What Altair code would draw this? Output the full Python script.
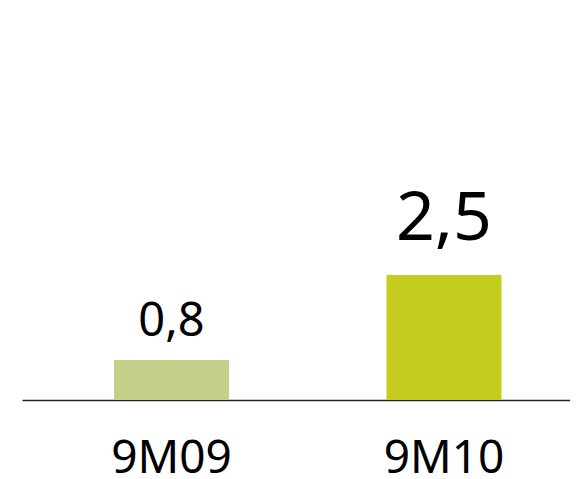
import altair as alt
import pandas as pd

periods = ["9M09", "9M10"]
values = [0.8, 2.5]
colors = ["#c4cf8a", "#c4cd1e"]
label_sizes = [47, 68]
label_offsets = [-24, -35]

df = pd.DataFrame({
    "period": periods,
    "value": values,
    "color": colors,
})

FONT = "Noto Sans"

x = alt.X(
    "period:N",
    sort=periods,
    scale=alt.Scale(paddingInner=0.578, paddingOuter=0.2945, align=0.573),
    axis=alt.Axis(
        title=None, labelAngle=0, ticks=False, tickSize=0, labelFont=FONT,
        labelFontSize=46, labelColor="#000000", labelBaseline="alphabetic",
        labelPadding=72, domainColor="#222222", domainWidth=1.5, grid=False,
    ),
)
y = alt.Y("value:Q", scale=alt.Scale(domain=[0, 3]), axis=None)

bars = alt.Chart(df).mark_bar(size=115).encode(
    x=x, y=y, color=alt.Color("color:N", scale=None)
)

texts = []
for i, p in enumerate(periods):
    t = alt.Chart(df).transform_filter(alt.datum.period == p).transform_calculate(
        label="replace(format(datum.value, '.1f'), '.', ',')"
    ).mark_text(
        font=FONT, fontSize=label_sizes[i], baseline="alphabetic", dy=label_offsets[i], color="#000000"
    ).encode(x=alt.X("period:N", sort=periods), y="value:Q", text="label:N")
    texts.append(t)

chart = alt.layer(bars, *texts).properties(
    width=548, height=150,
    background="#ffffff",
    autosize=alt.AutoSizeParams(type="none"),
    padding={"left": 14, "top": 242, "right": 0, "bottom": 76},
).configure_view(strokeWidth=0, stroke="transparent")

chart.save("out.html", embed_options={"renderer": "svg", "actions": False})
